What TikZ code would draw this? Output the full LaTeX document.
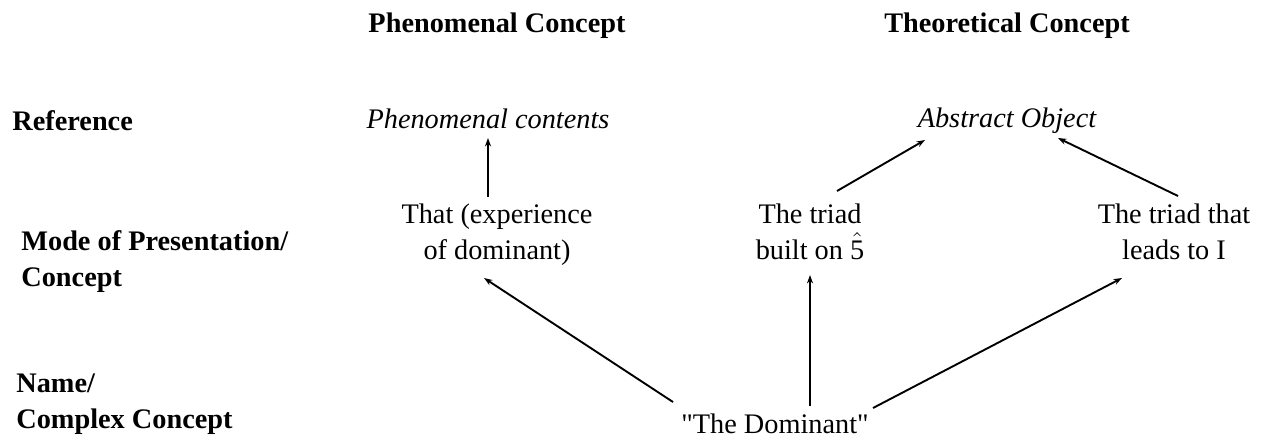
\documentclass[tikz,border=0pt]{standalone}
\usepackage{amsmath}
\usepackage{fontspec}
\setmainfont{Liberation Serif}
\usetikzlibrary{arrows.meta,calc}
\tikzset{
  x=0.5pt, y=-0.5pt,
  lbl/.style={inner sep=0pt, font=\fontsize{14.15pt}{18pt}\selectfont},
  rowlbl/.style={lbl, font=\fontsize{14.15pt}{18pt}\selectfont\bfseries, align=left, anchor=base west},
  colhead/.style={lbl, font=\fontsize{14.15pt}{18pt}\selectfont\bfseries, anchor=base},
  refnode/.style={lbl, font=\fontsize{14.15pt}{18pt}\selectfont\itshape, anchor=base},
  modenode/.style={lbl, align=center, anchor=base},
  arr/.style={line width=0.95pt, -{Stealth[length=4.2pt, width=3pt]}}
}
\begin{document}
\begin{tikzpicture}
\useasboundingbox (0,0) rectangle (1264,436);
% column headers
\node[colhead] (phc) at (497,32) {Phenomenal Concept};
\node[colhead] (thc) at (1007,32) {Theoretical Concept};
% row labels (base = last line)
\node[rowlbl] (rref) at (12,130) {Reference};
\node[rowlbl] (rmode) at (21,286) {Mode of Presentation/\\Concept};
\node[rowlbl] (rname) at (16,428) {Name/\\Complex Concept};
% reference row
\node[refnode] (phen) at (488,128) {Phenomenal contents};
\node[refnode] (abs) at (1007,127) {Abstract Object};
% mode row (base = last line)
\node[modenode] (that) at (497,259) {That (experience\\of dominant)};
\node[modenode] (tri1) at (810,259) {The triad\\built on \(\hat{\text{5}}\)};
\node[modenode] (tri2) at (1174,259) {The triad that\\leads to I};
% name row
\node[lbl, anchor=base] (dom) at (775,433) {\textquotedbl The Dominant\textquotedbl};
% connectors
\draw[arr] ($(that.base)+(-9,-62)$) -- ($(phen.base)+(0,10)$);
\draw[arr] ($(tri1.base)+(27,-68)$) -- ($(abs.base)+(-82,13)$);
\draw[arr] ($(tri2.base)+(4,-63)$) -- ($(abs.base)+(51,11)$);
\draw[arr] ($(dom.base)+(-102,-31)$) -- ($(that.base)+(-13,19)$);
\draw[arr] ($(dom.base)+(35,-27)$) -- ($(tri1.base)+(0,16)$);
\draw[arr] ($(dom.base)+(98,-25)$) -- ($(tri2.base)+(-52,19)$);
\end{tikzpicture}
\end{document}
